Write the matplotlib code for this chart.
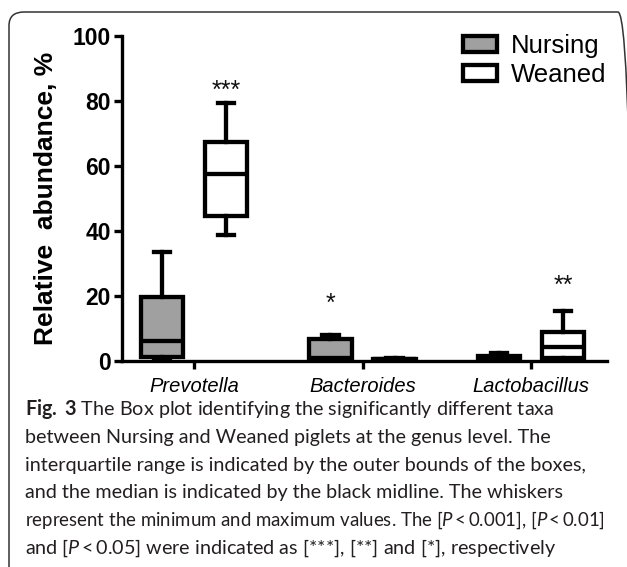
import matplotlib
matplotlib.use("Agg")
import matplotlib.pyplot as plt
from matplotlib.patches import Patch, FancyBboxPatch

# ---------------- data ----------------
categories = ["Prevotella", "Bacteroides", "Lactobacillus"]
groups = ["Nursing", "Weaned"]
# five-number summaries: min, q1, median, q3, max (relative abundance, %)
nursing_min = [0.3, 0.1, 0.1]
nursing_q1 = [1.0, 0.6, 0.4]
nursing_med = [6.1, 0.9, 0.8]
nursing_q3 = [19.6, 6.5, 1.4]
nursing_max = [33.5, 8.0, 2.3]

weaned_min = [38.8, 0.05, 0.1]
weaned_q1 = [44.5, 0.2, 0.7]
weaned_med = [57.6, 0.4, 4.1]
weaned_q3 = [67.4, 0.6, 8.8]
weaned_max = [79.2, 0.9, 15.2]

sig_labels = ["***", "*", "**"]
sig_group = [1, 0, 1]          # 0 = Nursing box, 1 = Weaned box
sig_y = [85.3, 19.9, 25.2]     # centre height of the stars

yticks = [0, 20, 40, 60, 80, 100]

caption_lines = [
    r"$\mathbf{Fig.}$ $\mathbf{3}$ The Box plot identifying the significantly different taxa",
    "between Nursing and Weaned piglets at the genus level. The",
    "interquartile range is indicated by the outer bounds of the boxes,",
    "and the median is indicated by the black midline. The whiskers",
    r"represent the minimum and maximum values. The [$P\,$<$\,$0.001], [$P\,$<$\,$0.01]",
    r"and [$P\,$<$\,$0.05] were indicated as [***], [**] and [*], respectively",
]

# ---------------- style ----------------
plt.rcParams["font.family"] = ["Liberation Sans", "DejaVu Sans"]
plt.rcParams["mathtext.fontset"] = "custom"
plt.rcParams["mathtext.rm"] = "Lato"
plt.rcParams["mathtext.it"] = "Lato:italic"
plt.rcParams["mathtext.bf"] = "Lato:bold"

W, H = 627, 567
fig = plt.figure(figsize=(W / 100, H / 100), dpi=100)

# rounded frame around figure + caption
frame = FancyBboxPatch((9 / W, -40 / H), (633 - 9) / W, (H - 12 + 40) / H,
                       boxstyle="round,pad=0,rounding_size=0.024",
                       transform=fig.transFigure, facecolor="none",
                       edgecolor="#333333", linewidth=1.1, clip_on=False)
fig.patches.append(frame)

x0, x1 = 122, 607
ybot, ytop = 360.5, 36
ax = fig.add_axes([x0 / W, 1 - ybot / H, (x1 - x0) / W, (ybot - ytop) / H])
ax.set_facecolor("none")

gray = "#a0a0a0"
lw = 3.1
offset = 0.19
bw = 0.253
capw = 0.099

def make_stats(mins, q1s, meds, q3s, maxs):
    return [dict(whislo=a, q1=b, med=c, q3=d, whishi=e, fliers=[])
            for a, b, c, d, e in zip(mins, q1s, meds, q3s, maxs)]

stats_n = make_stats(nursing_min, nursing_q1, nursing_med, nursing_q3, nursing_max)
stats_w = make_stats(weaned_min, weaned_q1, weaned_med, weaned_q3, weaned_max)

pos = list(range(len(categories)))
for stats, off, fc in [(stats_n, -offset, gray), (stats_w, offset, "white")]:
    art = ax.bxp(stats, positions=[p + off for p in pos], widths=bw,
                 capwidths=capw, patch_artist=True, showfliers=False,
                 manage_ticks=False,
                 boxprops=dict(facecolor=fc, edgecolor="black", linewidth=lw),
                 whiskerprops=dict(color="black", linewidth=lw),
                 capprops=dict(color="black", linewidth=lw),
                 medianprops=dict(color="black", linewidth=lw))
    for k, lst in art.items():
        for a in lst:
            a.set_clip_on(False)
            a.set_zorder(3)

# significance stars
for i, (lab, g, yv) in enumerate(zip(sig_labels, sig_group, sig_y)):
    xv = pos[i] + (offset if g == 1 else -offset)
    ax.annotate(lab, (xv, yv), xytext=(0, -14.5), textcoords="offset pixels",
                ha="center", va="baseline", fontsize=18, color="#111111")

ax.set_xlim((x0 - 194) / 168.5, (x1 - 194) / 168.5)
ax.set_ylim(0, 100)
ax.set_yticks(yticks)
ax.set_yticklabels([str(t) for t in yticks], fontsize=16.5, fontweight="bold")
ax.set_xticks(pos)
ax.set_xticklabels(categories, fontsize=14.5, fontstyle="italic")
ax.tick_params(axis="both", width=2.4, length=6, direction="out", color="black")
ax.tick_params(axis="y", pad=2)
ax.tick_params(axis="x", pad=6)
for s in ["top", "right"]:
    ax.spines[s].set_visible(False)
for s in ["left", "bottom"]:
    ax.spines[s].set_linewidth(2.4)

fig.text(46 / W, 1 - 198 / H, "Relative  abundance, %", rotation=90,
         ha="center", va="center", fontsize=19, fontweight="bold")

# legend
handles = [Patch(facecolor=gray, edgecolor="black", linewidth=lw),
           Patch(facecolor="white", edgecolor="black", linewidth=lw)]
fig.legend(handles, groups, loc="upper left",
           bbox_to_anchor=(463 / W, 1 - 34 / H), frameon=False,
           fontsize=18.5, handlelength=1.32, handleheight=0.62,
           handletextpad=0.55, labelspacing=0.2, borderpad=0, borderaxespad=0)

# caption
cap_color = "#231f20"
first_base, pitch = 415, 27.8
texts = []
for i, line in enumerate(caption_lines):
    t = fig.text(25 / W, 1 - (first_base + i * pitch) / H, line,
                 ha="left", va="baseline", fontsize=12.5,
                 family="Lato", color=cap_color)
    texts.append(t)

# fit caption font size to the reference line widths
fig.canvas.draw()
r = fig.canvas.get_renderer()
base_scale = 563.0 / texts[2].get_window_extent(r).width
for i, t in enumerate(texts):
    s = base_scale
    wpx = t.get_window_extent(r).width * s
    if wpx > 580.0:               # the reference sets this line tighter
        s = s * 580.0 / wpx
    t.set_fontsize(12.5 * s)

fig.savefig("out.png", dpi=100)
